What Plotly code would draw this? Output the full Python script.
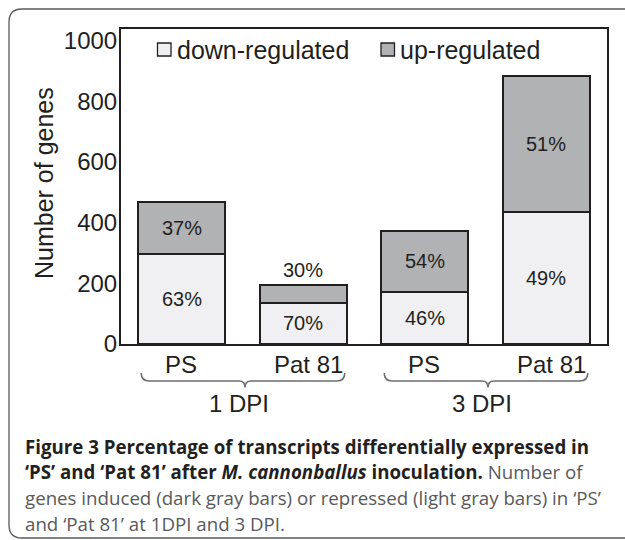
import plotly.graph_objects as go

# ---- data ----
categories = ["PS", "Pat 81", "PS", "Pat 81"]
groups = ["1 DPI", "3 DPI"]
group_members = [[0, 1], [2, 3]]
down_regulated = [297, 136, 172, 434]
up_regulated = [170, 59, 202, 450]
pct_down = ["63%", "70%", "46%", "49%"]
pct_up = ["37%", "30%", "54%", "51%"]
y_ticks = [0, 200, 400, 600, 800, 1000]

# ---- layout geometry (pixels) ----
W, H = 625, 540
ML, MR, MT, MB = 121, 18, 29, 196
PW, PH = W - ML - MR, H - MT - MB
YMAX = 1038
XR = [-0.5, 3.5]
BARGAP = 0.284

def PX(px):
    return (px - ML) / PW

def PY(py):
    return (H - MB - py) / PH

def DX(v):  # data x -> paper
    return (v - XR[0]) / (XR[1] - XR[0])

INK = "#231f20"
LIGHT = "#f0f0f2"
DARK = "#b1b2b4"
FONT = "Liberation Sans, Arial, Helvetica, sans-serif"
CAPFONT = "Open Sans, Noto Sans, sans-serif"

xs = list(range(len(categories)))

fig = go.Figure()
fig.add_trace(go.Bar(x=xs, y=down_regulated, name="down-regulated",
                     marker=dict(color=LIGHT, line=dict(color=INK, width=2)),
                     showlegend=False, hoverinfo="y"))
fig.add_trace(go.Bar(x=xs, y=up_regulated, name="up-regulated",
                     marker=dict(color=DARK, line=dict(color=INK, width=2)),
                     showlegend=False, hoverinfo="y"))

ann = []
shapes = []

# percentage labels
for i in xs:
    d, u = down_regulated[i], up_regulated[i]
    ann.append(dict(x=i, y=d / 2, xref="x", yref="y", text=pct_down[i],
                    showarrow=False, font=dict(size=20, color=INK, family=FONT)))
    seg_px = u / YMAX * PH
    if seg_px < 25:
        ann.append(dict(x=i, y=d + u, xref="x", yref="y", text=pct_up[i],
                        showarrow=False, yanchor="bottom", yshift=2,
                        font=dict(size=20, color=INK, family=FONT)))
    else:
        ann.append(dict(x=i, y=d + u / 2, xref="x", yref="y", text=pct_up[i],
                        showarrow=False, font=dict(size=20, color=INK, family=FONT)))

# category labels
for i, c in enumerate(categories):
    ann.append(dict(x=i, y=PY(364.5), xref="x", yref="paper", text=c,
                    showarrow=False, yanchor="middle",
                    xshift=5 if c != "PS" else -1,
                    font=dict(size=24, color=INK, family=FONT)))

# group braces and labels
half = (1 - BARGAP) / 2
for g, members in zip(groups, group_members):
    L = DX(min(members) - half) + 3 / PW
    R = DX(max(members) + half) - 2 / PW
    C = (L + R) / 2 + 2 / PW
    ytop, yline, ytip = PY(373), PY(381), PY(387.5)
    rx = 8 / PW
    cx = 6 / PW
    path = (f"M{L},{ytop} Q{L},{yline} {L+rx},{yline} L{C-cx},{yline} "
            f"Q{C},{yline} {C},{ytip} Q{C},{yline} {C+cx},{yline} "
            f"L{R-rx},{yline} Q{R},{yline} {R},{ytop}")
    shapes.append(dict(type="path", path=path, xref="paper", yref="paper",
                       line=dict(color="#6d6e70", width=1.6)))
    ann.append(dict(x=sum(members) / len(members), y=PY(403), xref="x", yref="paper",
                    text=g, showarrow=False, yanchor="middle", xshift=-4,
                    font=dict(size=24, color=INK, family=FONT)))

# manual legend
leg = [("down-regulated", LIGHT, 157.5, 176.5), ("up-regulated", DARK, 381, 400)]
for name, col, sx, tx in leg:
    shapes.append(dict(type="rect", xref="paper", yref="paper",
                       x0=PX(sx), x1=PX(sx + 13.5), y0=PY(56), y1=PY(43),
                       fillcolor=col, line=dict(color=INK, width=1.3)))
    ann.append(dict(x=PX(tx - 2), y=PY(49.5), xref="paper", yref="paper",
                    text=name, showarrow=False, xanchor="left", yanchor="middle",
                    font=dict(size=25, color=INK, family=FONT)))

# y axis title
ann.append(dict(x=PX(44), y=PY(183), xref="paper", yref="paper",
                text="Number of genes", textangle=-90, showarrow=False,
                xanchor="center", yanchor="middle",
                font=dict(size=25, color=INK, family=FONT)))

# outer rounded box
x0, x1, y0, y1 = PX(9), PX(650), PY(9), PY(538)
rx, ry = 13 / PW, 13 / PH
box = (f"M{x0},{y0-ry} L{x0},{y1+ry} Q{x0},{y1} {x0+rx},{y1} L{x1},{y1} "
       f"M{x0},{y0-ry} Q{x0},{y0} {x0+rx},{y0} L{x1},{y0}")
shapes.append(dict(type="path", path=box, xref="paper", yref="paper",
                   line=dict(color="#58595b", width=1.3)))

# caption
CAPGRAY = "#58595b"
caption_lines = [
    "<b>Figure 3 Percentage of transcripts differentially expressed in</b>",
    "<b>\u2018PS\u2019 and \u2018Pat 81\u2019 after <i>M. cannonballus</i> inoculation.</b> Number of",
    "genes induced (dark gray bars) or repressed (light gray bars) in \u2018PS\u2019",
    "and \u2018Pat 81\u2019 at 1DPI and 3 DPI.",
]
cap_y = [446.5, 472, 497.5, 523.5]
for k, (t, yy) in enumerate(zip(caption_lines, cap_y)):
    t = t.replace("<b>", f"<span style='color:{INK}'><b>").replace("</b>", "</b></span>")
    ann.append(dict(x=PX(23), y=PY(yy), xref="paper", yref="paper", text=t,
                    showarrow=False, xanchor="left", yanchor="middle",
                    font=dict(size=18.7, color=CAPGRAY, family=CAPFONT)))

fig.update_layout(
    width=W, height=H,
    margin=dict(l=ML, r=MR, t=MT, b=MB, pad=0),
    barmode="stack", bargap=BARGAP,
    paper_bgcolor="white", plot_bgcolor="white",
    annotations=ann, shapes=shapes,
    font=dict(family=FONT, color=INK),
    xaxis=dict(range=XR, showticklabels=False, ticks="", showgrid=False,
               zeroline=False, showline=True, linecolor=INK, linewidth=2,
               mirror=True, fixedrange=True),
    yaxis=dict(range=[0, YMAX], tickvals=y_ticks, ticks="", showgrid=False,
               zeroline=False, showline=True, linecolor=INK, linewidth=2,
               mirror=True, tickfont=dict(size=24, color=INK, family=FONT),
               ticklabelstandoff=-3, fixedrange=True),
)

fig.write_html("out.html", config={"displayModeBar": False},
               post_script="document.body.style.margin='0';document.body.style.overflow='hidden';")
